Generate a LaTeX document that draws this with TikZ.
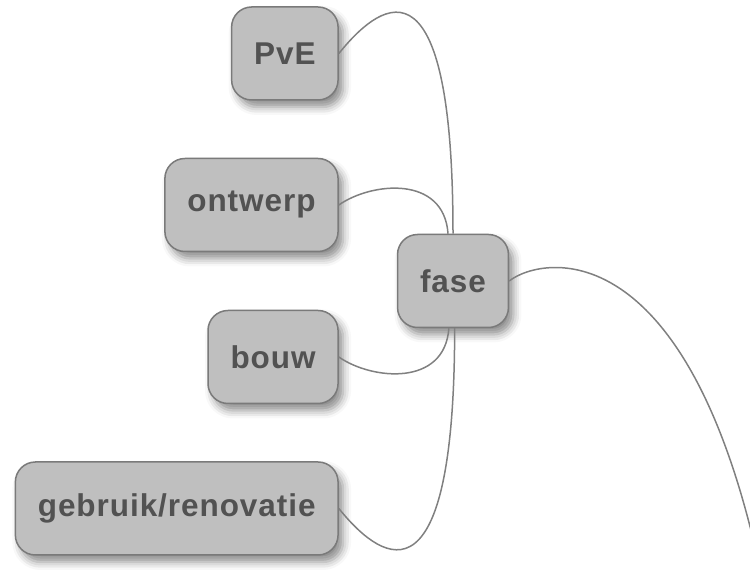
\documentclass[tikz,border=0pt]{standalone}
\usepackage{fontspec}
\usepackage{tikz}
\usetikzlibrary{positioning,shadows.blur}
\newfontfamily\topicfont{Liberation Sans}[LetterSpace=3]

\begin{document}
\begin{tikzpicture}[x=1pt,y=1pt,
    topic/.style={rectangle,rounded corners=20pt,draw=black!52,line width=1.5pt,
      fill=black!25,text=black!68,font=\topicfont\bfseries\fontsize{31.5}{36}\selectfont,
      minimum height=93pt,inner xsep=22.5pt,
      blur shadow={shadow xshift=5pt,shadow yshift=-7pt,shadow blur radius=8pt,shadow opacity=45}},
    every edge/.style={draw=black!50,line width=1.5pt}]
  \clip (0,0) rectangle (750,585);

  \node[topic] (fase)                                         at (453,304) {fase};
  \node[topic] (PvE)      [left=58pt of fase, yshift=227.5pt]  {PvE};
  \node[topic] (ontwerp)  [left=58pt of fase, yshift=76pt]     {ontwerp};
  \node[topic] (bouw)     [left=58pt of fase, yshift=-76pt]    {bouw};
  \node[topic] (gebruik)  [left=58pt of fase, yshift=-227.5pt] {gebruik/renovatie};
  \coordinate (next) at (770,-35);

  \path (fase.90)  edge [out=90,  in=51,   out distance=296pt, in distance=58pt] (PvE.east)
        (fase.96)  edge [out=94,  in=35,   out distance=59pt,  in distance=40pt] (ontwerp.east)
        (fase.-95) edge [out=-94, in=-35,  out distance=59pt,  in distance=40pt] (bouw.east)
        (fase.-88) edge [out=-90, in=-51,  out distance=296pt, in distance=58pt] (gebruik.east)
        (fase.east) edge [out=38, in=100,  out distance=42pt,  in distance=401pt] (next)
        ;
\end{tikzpicture}
\end{document}
